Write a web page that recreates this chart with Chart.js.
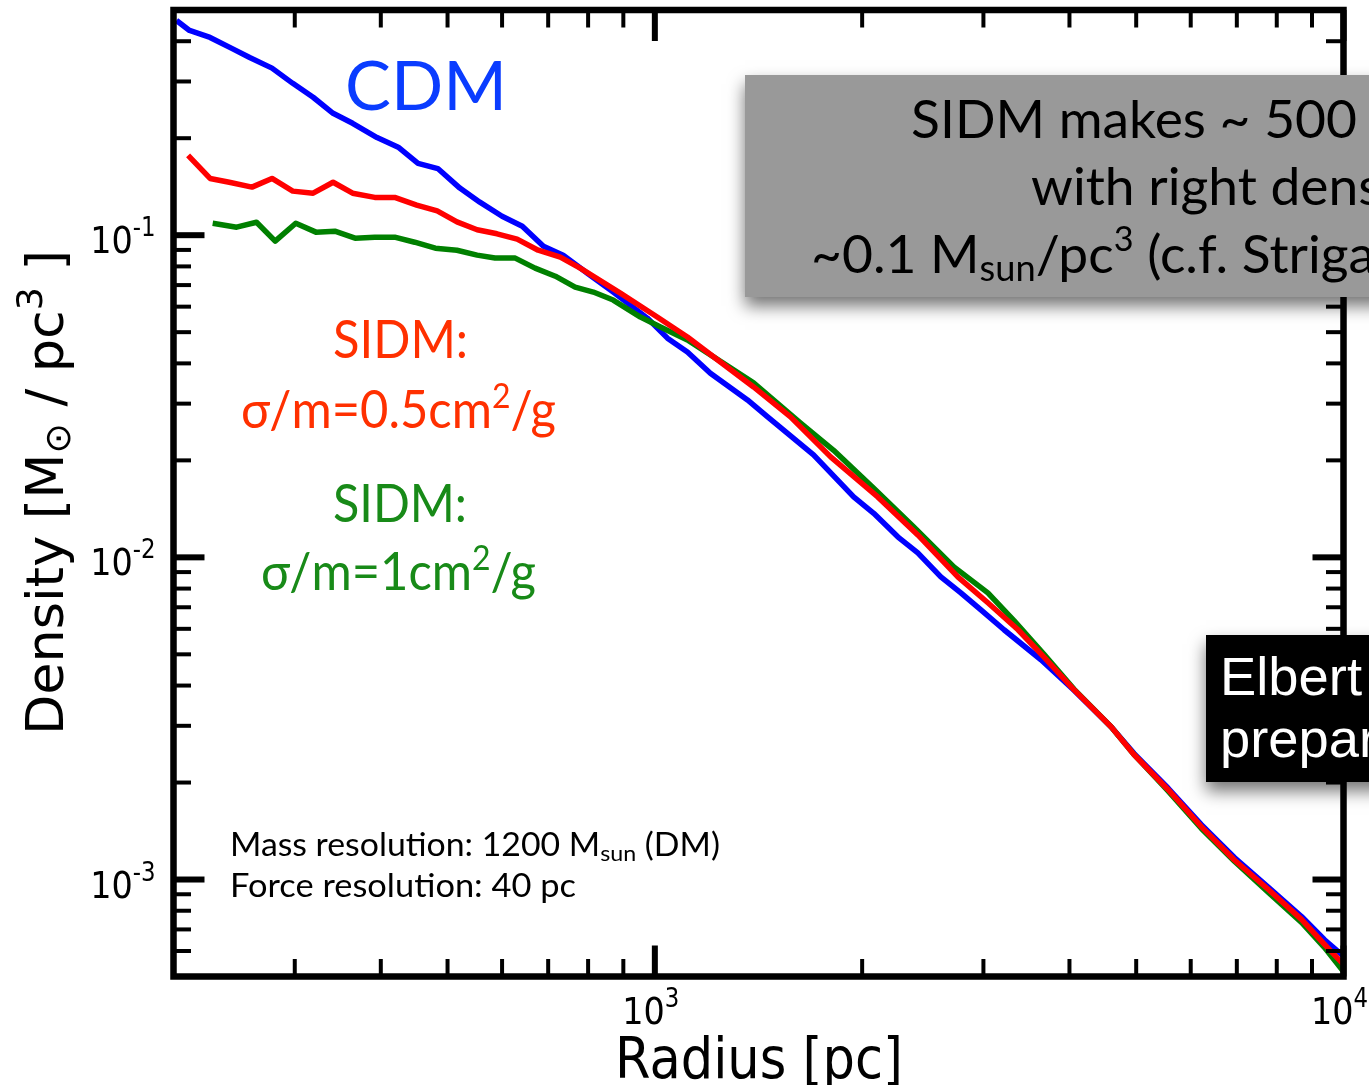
<!DOCTYPE html>
<html>
<head>
<meta charset="utf-8">
<style>
  html, body { margin: 0; padding: 0; background: #fff; }
  canvas { display: block; }
</style>
<script src="https://cdn.jsdelivr.net/npm/chart.js@4.4.1/dist/chart.umd.min.js"></script>
</head>
<body>
<canvas id="chart" width="1369" height="1085"></canvas>
<script>
// --- data (radius in pc, density in Msun/pc^3) ---
const cdmRadius = [202, 211, 226, 243, 258, 278, 298, 319, 341, 364, 395, 424, 453, 484, 521, 557, 600, 642, 689, 736,
  798, 870, 975, 1043, 1115, 1204, 1363, 1458, 1700, 1944, 2079, 2253, 2409, 2602, 2782, 2975, 3214, 3637, 4061, 4597,
  4966, 5565, 6217, 6943, 7780, 8690, 9385, 10000];
const cdmDensity = [0.464, 0.432, 0.411, 0.380, 0.356, 0.330, 0.296, 0.268, 0.239, 0.2225, 0.201, 0.1875, 0.167, 0.161, 0.140, 0.1266, 0.1145, 0.1066, 0.0924, 0.0867,
  0.0762, 0.0666, 0.0553, 0.0479, 0.0434, 0.0373, 0.0308, 0.0273, 0.0208, 0.0154, 0.0137, 0.01158, 0.01033, 0.00870, 0.00776, 0.00687, 0.00596, 0.00481, 0.00387, 0.00298,
  0.00246, 0.00192, 0.00148, 0.00117, 0.000945, 0.000768, 0.000650, 0.000578];

const sidm05Radius = [210, 226, 241, 260, 278, 298, 319, 341, 364, 392, 419, 451, 483, 516, 552, 590, 631, 677, 729, 779,
  891, 1008, 1115, 1245, 1391, 1574, 1800, 2107, 2409, 2754, 3045, 3368, 3674, 4061, 4597, 4966, 5565, 6217, 6943, 7780,
  8690, 9385, 10000];
const sidm05Density = [0.177, 0.150, 0.146, 0.141, 0.150, 0.137, 0.135, 0.146, 0.135, 0.131, 0.131, 0.124, 0.119, 0.110, 0.104, 0.101, 0.0972, 0.0898, 0.0855, 0.0790,
  0.0661, 0.0557, 0.0483, 0.0404, 0.0338, 0.0273, 0.0205, 0.0154, 0.01174, 0.00870, 0.00723, 0.00596, 0.00490, 0.00388, 0.00298, 0.00244, 0.00190, 0.00146, 0.00115, 0.000931,
  0.000752, 0.000629, 0.000545];

const sidm1Radius = [228, 247, 264, 281, 301, 322, 343, 367, 392, 419, 448, 480, 516, 552, 586, 627, 670, 717, 766, 814,
  870, 953, 1019, 1115, 1217, 1391, 1628, 1818, 2079, 2377, 2718, 3045, 3323, 3674, 4061, 4597, 4966, 5565, 6217, 6943,
  7780, 8690, 9385, 10000];
const sidm1Density = [0.1089, 0.1059, 0.1097, 0.0958, 0.1089, 0.1022, 0.1029, 0.0979, 0.0986, 0.0986, 0.0951, 0.0911, 0.0898, 0.0867, 0.0849, 0.0849, 0.0790, 0.0746, 0.0690, 0.0666,
  0.0629, 0.0557, 0.0519, 0.0473, 0.0419, 0.0348, 0.0261, 0.0215, 0.0164, 0.01243, 0.00934, 0.00776, 0.00636, 0.00500, 0.00390, 0.00298, 0.00244, 0.00188, 0.00144, 0.00114,
  0.000911, 0.000736, 0.000615, 0.000518];

// ticks
const xMajorTicks = [1000, 10000];
const xTickExponents = ['3', '4'];
const xMinorTicks = [300, 400, 500, 600, 700, 800, 900, 2000, 3000, 4000, 5000, 6000, 7000, 8000, 9000];
const yMajorTicks = [0.001, 0.01, 0.1];
const yTickExponents = ['-3', '-2', '-1'];
const yMinorTicks = [6e-4, 7e-4, 8e-4, 9e-4, 2e-3, 3e-3, 4e-3, 5e-3, 6e-3, 7e-3, 8e-3, 9e-3,
  2e-2, 3e-2, 4e-2, 5e-2, 6e-2, 7e-2, 8e-2, 9e-2, 0.2, 0.3, 0.4];

function toPoints(xs, ys) {
  return xs.map((x, i) => ({ x: x, y: ys[i] }));
}

// --- text helpers (parts = [text, size, dy]) ---
function partsWidth(ctx, parts, family) {
  let w = 0;
  for (const [t, s] of parts) {
    ctx.font = s + 'px "' + family + '"';
    w += ctx.measureText(t).width;
  }
  return w;
}

function drawParts(ctx, parts, x, y, family, color, sx, align) {
  const w = partsWidth(ctx, parts, family) * sx;
  let x0 = x;
  if (align === 'center') x0 = x - w / 2;
  if (align === 'right') x0 = x - w;
  ctx.save();
  ctx.fillStyle = color;
  ctx.textAlign = 'left';
  ctx.textBaseline = 'alphabetic';
  ctx.translate(x0, y);
  ctx.scale(sx, 1);
  let cx = 0;
  for (const [t, s, dy] of parts) {
    ctx.font = s + 'px "' + family + '"';
    ctx.fillText(t, cx, dy || 0);
    cx += ctx.measureText(t).width;
  }
  ctx.restore();
}

// scale so that the first n parts span the given width
function fitScale(ctx, parts, n, family, width) {
  return width / partsWidth(ctx, parts.slice(0, n), family);
}

function box(ctx, x, y, w, h, color) {
  ctx.save();
  ctx.shadowColor = 'rgba(0,0,0,0.55)';
  ctx.shadowBlur = 16;
  ctx.shadowOffsetY = 9;
  ctx.fillStyle = color;
  ctx.fillRect(x, y, w, h);
  ctx.restore();
}

const MPL = 'DejaVu Sans';
const GILL = 'Lato';

const framePlugin = {
  id: 'framePlugin',
  afterDatasetsDraw(chart) {
    const { ctx, chartArea: a, scales: { x, y } } = chart;
    ctx.save();
    ctx.strokeStyle = '#000';
    ctx.lineCap = 'butt';

    const tick = (x1, y1, x2, y2, w) => {
      ctx.lineWidth = w;
      ctx.beginPath();
      ctx.moveTo(x1, y1);
      ctx.lineTo(x2, y2);
      ctx.stroke();
    };
    const MAJ = 31, MIN = 17.5;
    for (const v of xMinorTicks) {
      const px = x.getPixelForValue(v);
      tick(px, a.bottom, px, a.bottom - MIN, 4);
      tick(px, a.top, px, a.top + MIN, 4);
    }
    for (const v of xMajorTicks) {
      const px = x.getPixelForValue(v);
      tick(px, a.bottom, px, a.bottom - MAJ, 6);
      tick(px, a.top, px, a.top + MAJ, 6);
    }
    for (const v of yMinorTicks) {
      const py = y.getPixelForValue(v);
      tick(a.left, py, a.left + MIN, py, 4);
      tick(a.right, py, a.right - MIN, py, 4);
    }
    for (const v of yMajorTicks) {
      const py = y.getPixelForValue(v);
      tick(a.left, py, a.left + MAJ, py, 6);
      tick(a.right, py, a.right - MAJ, py, 6);
    }
    ctx.lineWidth = 6.5;
    ctx.lineJoin = 'miter';
    ctx.strokeRect(a.left, a.top, a.right - a.left, a.bottom - a.top);
    ctx.restore();

    // tick labels
    xMajorTicks.forEach((v, i) => {
      const px = x.getPixelForValue(v);
      drawParts(ctx, [['10', 38], [xTickExponents[i], 26, -17]], px - 4, a.bottom + 47, MPL, '#000', 0.88, 'center');
    });
    yMajorTicks.forEach((v, i) => {
      const py = y.getPixelForValue(v);
      drawParts(ctx, [['10', 38], [yTickExponents[i], 26, -17]], a.left - 18, py + 18, MPL, '#000', 0.88, 'right');
    });

    // axis titles
    drawParts(ctx, [['Radius [pc]', 57]], 615, 1078, MPL, '#000', fitScale(ctx, [['Radius [pc]', 57]], 1, MPL, 288), 'left');
    const yTitle = [['Density [M', 52], ['\u2299', 36, 7], [' / pc', 52], ['3', 36, -21], [' ]', 52]];
    ctx.save();
    ctx.translate(63, 735);
    ctx.rotate(-Math.PI / 2);
    drawParts(ctx, yTitle, 0, 0, MPL, '#000', fitScale(ctx, yTitle, yTitle.length, MPL, 485), 'left');
    ctx.restore();

    // annotations
    const cdm = [['CDM', 67]];
    drawParts(ctx, cdm, 345, 110, GILL, '#0a3cff', fitScale(ctx, cdm, 1, GILL, 162), 'left');

    const red = '#ff3000', green = '#188a18';
    const s1 = [['SIDM:', 52]];
    drawParts(ctx, s1, 333, 358, GILL, red, fitScale(ctx, s1, 1, GILL, 135), 'left');
    const r1 = [['\u03c3/m=0.5cm', 52], ['2', 34, -20], ['/g', 52]];
    drawParts(ctx, r1, 241, 428, GILL, red, fitScale(ctx, r1, 3, GILL, 315), 'left');
    drawParts(ctx, s1, 333, 522, GILL, green, fitScale(ctx, s1, 1, GILL, 134), 'left');
    const g1 = [['\u03c3/m=1cm', 52], ['2', 34, -20], ['/g', 52]];
    drawParts(ctx, g1, 261, 590, GILL, green, fitScale(ctx, g1, 3, GILL, 275), 'left');

    const m1 = [['Mass resolution: 1200 M', 32], ['sun', 22, 5], [' (DM)', 32]];
    drawParts(ctx, m1, 230, 856, GILL, '#000', fitScale(ctx, m1, 3, GILL, 490), 'left');
    const f1 = [['Force resolution: 40 pc', 32]];
    drawParts(ctx, f1, 230, 897, GILL, '#000', fitScale(ctx, f1, 1, GILL, 346), 'left');

    // grey box
    box(ctx, 745, 75, 700, 222, '#999999');
    const l1 = [['SIDM makes ~ 500', 53], [' pc cores', 53]];
    const gs = fitScale(ctx, l1, 1, GILL, 446);
    drawParts(ctx, l1, 911, 138, GILL, '#000', gs, 'left');
    drawParts(ctx, [['with right density', 53]], 1031, 205, GILL, '#000', gs, 'left');
    drawParts(ctx, [['~0.1 M', 53], ['sun', 36, 8], ['/pc', 53], ['3', 34, -22], [' (c.f. Strigari et al. 2008)', 53]],
      811, 273, GILL, '#000', gs, 'left');

    // black box
    box(ctx, 1206, 635, 300, 147, '#000');
    const e1 = [['Elbert', 53], [' et al. in', 53]];
    const es = fitScale(ctx, e1, 1, 'Liberation Sans', 142);
    drawParts(ctx, e1, 1220, 695, 'Liberation Sans', '#fff', es, 'left');
    drawParts(ctx, [['preparation', 53]], 1220, 757, 'Liberation Sans', '#fff', es, 'left');
  }
};

new Chart(document.getElementById('chart'), {
  type: 'line',
  data: {
    datasets: [
      { label: 'CDM', data: toPoints(cdmRadius, cdmDensity), borderColor: '#0000ff', order: 3 },
      { label: 'SIDM 1 cm2/g', data: toPoints(sidm1Radius, sidm1Density), borderColor: '#008000', order: 2 },
      { label: 'SIDM 0.5 cm2/g', data: toPoints(sidm05Radius, sidm05Density), borderColor: '#ff0000', order: 1 }
    ]
  },
  options: {
    responsive: false,
    animation: false,
    devicePixelRatio: 1,
    elements: {
      line: { borderWidth: 5.5, tension: 0, borderJoinStyle: 'round', fill: false },
      point: { radius: 0 }
    },
    layout: { padding: { left: 0, right: 25.5, top: 10, bottom: 0 } },
    plugins: { legend: { display: false }, tooltip: { enabled: false } },
    scales: {
      x: {
        type: 'logarithmic', min: 200, max: 10000,
        ticks: { display: false }, grid: { display: false }, border: { display: false },
        afterFit: s => { s.height = 108.5; }
      },
      y: {
        type: 'logarithmic', min: 5e-4, max: 0.5,
        ticks: { display: false }, grid: { display: false }, border: { display: false },
        afterFit: s => { s.width = 173.5; }
      }
    }
  },
  plugins: [framePlugin]
});
</script>
</body>
</html>
